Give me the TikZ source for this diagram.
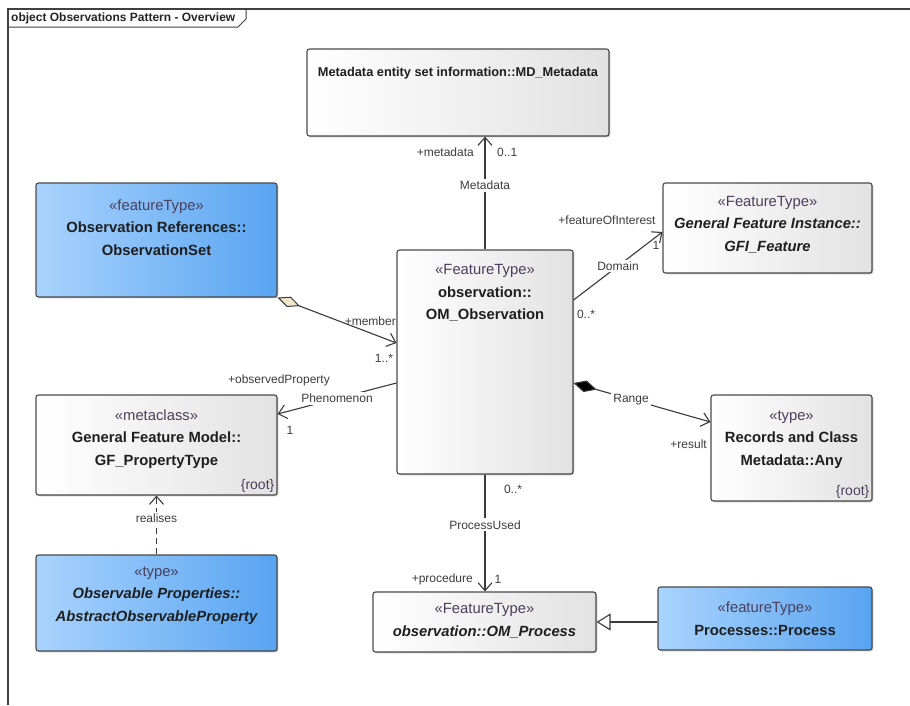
\documentclass[tikz,border=0pt]{standalone}
\usepackage{fontspec}
\setmainfont{Liberation Sans}
\usetikzlibrary{arrows.meta,shadows,calc}
\definecolor{bordc}{HTML}{4A4A4A}
\definecolor{lnc}{HTML}{3A3A3A}
\definecolor{labc}{HTML}{3C3C3C}
\definecolor{sterc}{HTML}{4B3F5C}
\definecolor{blueL}{HTML}{A9D3FD}
\definecolor{blueR}{HTML}{58A4F1}
\definecolor{greyR}{HTML}{E2E2E2}
\definecolor{diamc}{HTML}{F2E6CC}
\begin{document}
\begin{tikzpicture}[x=1pt,y=-1pt,
  box/.style={draw=bordc, line width=1.1pt, rounded corners=2.5pt, inner sep=0pt,
    drop shadow={shadow xshift=1.3pt,shadow yshift=-1.3pt,opacity=0.35,fill=black!60}},
  gbox/.style={box, left color=white, right color=greyR},
  bbox/.style={box, left color=blueL, right color=blueR},
  ttl/.style={font=\fontsize{14.8}{22.5}\selectfont, align=center, inner sep=0pt, anchor=north, text=black!88},
  rootl/.style={font=\fontsize{14}{15}\selectfont, inner sep=0pt, anchor=south east, text=sterc},
  lab/.style={font=\fontsize{12}{13}\selectfont, text=labc, inner sep=1pt},
  onl/.style={lab, fill=white, inner sep=2pt},
  conn/.style={draw=lnc, line width=1.1pt},
  oa/.style={-{Straight Barb[length=8pt,width=14pt,line width=1.1pt]}},
]
\useasboundingbox (0,0) rectangle (910,705);
\fill[white] (0,0) rectangle (910,705);
% frame
\draw[line width=1.2pt, draw=black!75] (8,705) -- (8,9) -- (910,9);
\draw[line width=1pt, draw=black!75] (8,27) -- (238,27) -- (246,19) -- (246,9);
\node[font=\fontsize{12}{13}\bfseries, anchor=west, inner sep=0pt, text=black!85] (tab) at (11,18.5) {object Observations Pattern - Overview};

% boxes
\node[gbox, minimum width=302pt, minimum height=87pt] (md) at (458,92.5) {};
\node[ttl, font=\fontsize{12.8}{15}\selectfont] (mdt) at (458,67) {\bfseries Metadata entity set information::MD\_Metadata};

\node[bbox, minimum width=241pt, minimum height=114pt] (oset) at (156.5,240) {};
\node[ttl] (osett) at (156.5,199.5) {{\color{sterc}«featureType»}\\ \bfseries Observation References::\\ \bfseries ObservationSet};

\node[gbox, minimum width=176pt, minimum height=224pt] (obs) at (485,362) {};
\node[ttl] (obst) at (485,264.5) {{\color{sterc}«FeatureType»}\\ \bfseries observation::\\ \bfseries OM\_Observation};

\node[gbox, minimum width=209pt, minimum height=90pt] (gfi) at (767.5,228) {};
\node[ttl] (gfit) at (767.5,196) {{\color{sterc}«FeatureType»}\\ \bfseries\itshape General Feature Instance::\\ \bfseries\itshape GFI\_Feature};

\node[gbox, minimum width=241pt, minimum height=100pt] (gfp) at (156.5,445) {};
\node[ttl] (gfpt) at (156.5,409.5) {{\color{sterc}«metaclass»}\\ \bfseries General Feature Model::\\ \bfseries GF\_PropertyType};
\node[rootl] (gfpr) at ([xshift=-3pt,yshift=3pt]gfp.south east) {\{root\}};

\node[gbox, minimum width=161pt, minimum height=106pt] (rec) at (791.5,448) {};
\node[ttl] (rect) at (791.5,410.5) {{\color{sterc}«type»}\\ \bfseries Records and Class\\ \bfseries Metadata::Any};
\node[rootl] (recr) at ([xshift=-3pt,yshift=3pt]rec.south east) {\{root\}};

\node[bbox, minimum width=241pt, minimum height=96pt] (aop) at (156.5,603) {};
\node[ttl] (aopt) at (156.5,566.5) {{\color{sterc}«type»}\\ \bfseries\itshape Observable Properties::\\ \bfseries\itshape AbstractObservableProperty};

\node[gbox, minimum width=223pt, minimum height=60pt] (proc) at (484.5,622) {};
\node[ttl, font=\fontsize{14.8}{23}\selectfont] (proct) at (484.5,603.5) {{\color{sterc}«FeatureType»}\\ \bfseries\itshape observation::OM\_Process};

\node[bbox, minimum width=214pt, minimum height=63pt] (pp) at (765,618.5) {};
\node[ttl, font=\fontsize{14.8}{23}\selectfont] (ppt) at (765,602) {{\color{sterc}«featureType»}\\ \bfseries Processes::Process};

% connectors
\draw[conn, oa] (obs.north) -- (obs.north |- md.south) node[onl, pos=0.57] (c1) {Metadata};
\node[lab, anchor=east] (c1a) at (475,152) {+metadata};
\node[lab, anchor=west] (c1b) at (496,152) {0..1};

\draw[conn, oa] ([yshift=62pt]obs.east) -- ([yshift=-4pt]gfi.west) node[onl, pos=0.5] (c2) {Domain};
\node[lab] (c2a) at (607,220) {+featureOfInterest};
\node[lab] (c2b) at (656,245) {1};
\node[lab] (c2c) at (586,314) {0..*};

\draw[conn, {Diamond[length=24pt,width=11pt,fill=diamc,line width=1pt]}-{Straight Barb[length=8pt,width=14pt,line width=1.1pt]}] (oset.south east) -- ([yshift=19pt]obs.west);
\node[lab, anchor=east] (c3a) at (397,321) {+member};
\node[lab] (c3b) at (384,358) {1..*};

\draw[conn, oa] ([yshift=-21pt]obs.west) -- ([yshift=31pt]gfp.east) node[onl, pos=0.5] (c4) {Phenomenon};
\node[lab, anchor=east] (c4a) at (331,380) {+observedProperty};
\node[lab] (c4b) at (290,430) {1};

\draw[conn, {Diamond[length=24pt,width=12pt,fill=black]}-{Straight Barb[length=8pt,width=14pt,line width=1.1pt]}] ([yshift=-21pt]obs.east) -- ([yshift=26pt]rec.west) node[onl, pos=0.42] (c5) {Range};
\node[lab, anchor=east] (c5a) at (708,444) {+result};

\draw[conn, oa] (obs.south) -- (obs.south |- proc.north) node[onl, pos=0.43] (c6) {ProcessUsed};
\node[lab] (c6a) at (513,489) {0..*};
\node[lab, anchor=east] (c6b) at (474,579) {+procedure};
\node[lab] (c6c) at (498,579) {1};

\draw[conn, dash pattern=on 6pt off 4pt, oa] (aop.north) -- (gfp.south) node[onl, pos=0.62] (c7) {realises};

\draw[conn, -{Triangle[length=14pt,width=17pt,fill=white,line width=1.1pt]}] (pp.west |- proc.east) -- (proc.east);
\end{tikzpicture}
\end{document}
